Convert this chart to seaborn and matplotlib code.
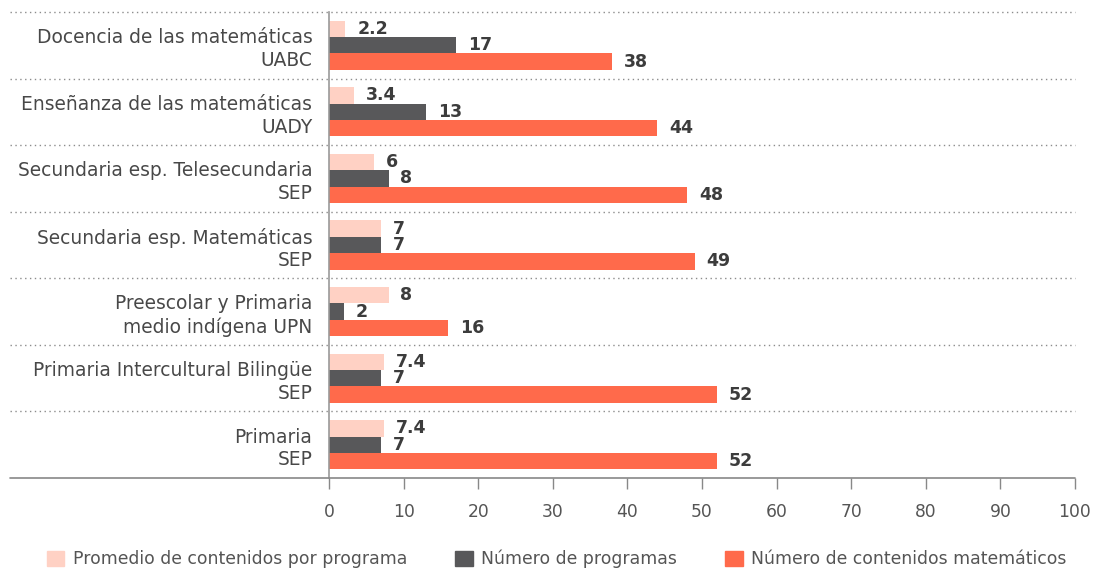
import matplotlib
matplotlib.use("Agg")
import matplotlib.pyplot as plt
import matplotlib.patches as mpatches
import seaborn as sns
import pandas as pd

programas = [
    "Docencia de las matemáticas\nUABC",
    "Enseñanza de las matemáticas\nUADY",
    "Secundaria esp. Telesecundaria\nSEP",
    "Secundaria esp. Matemáticas\nSEP",
    "Preescolar y Primaria\nmedio indígena UPN",
    "Primaria Intercultural Bilingüe\nSEP",
    "Primaria\nSEP",
]
promedio = [2.2, 3.4, 6, 7, 8, 7.4, 7.4]
num_programas = [17, 13, 8, 7, 2, 7, 7]
num_contenidos = [38, 44, 48, 49, 16, 52, 52]

series = [
    "Promedio de contenidos por programa",
    "Número de programas",
    "Número de contenidos matemáticos",
]
colores = ["#FFD1C4", "#58585A", "#FF6A4B"]
ticks = [0, 10, 20, 30, 40, 50, 60, 70, 80, 90, 100]

df = pd.DataFrame({
    "programa": programas * 3,
    "serie": [series[0]] * 7 + [series[1]] * 7 + [series[2]] * 7,
    "valor": promedio + num_programas + num_contenidos,
})

sns.set_theme(style="white")
plt.rcParams["font.family"] = ["DejaVu Sans"]

fig = plt.figure(figsize=(10.96, 5.71), dpi=100)
ax = fig.add_axes([329 / 1096, 1 - 478 / 571, 746 / 1096, 466 / 571])

sns.barplot(data=df, y="programa", x="valor", hue="serie", order=programas,
            hue_order=series, palette=colores, orient="h", width=0.74,
            saturation=1, ax=ax, legend=False, linewidth=0, edgecolor="none")

def fmt(v):
    return f"{v:g}"

for cont, vals in zip(ax.containers, [promedio, num_programas, num_contenidos]):
    ax.bar_label(cont, labels=[fmt(v) for v in vals], padding=8.5,
                 fontsize=12.5, color="#3C3C3C", fontweight="bold")

ax.set_xlim(0, 100)
ax.set_ylim(6.5, -0.5)
ax.set_xticks(ticks)
ax.set_xticklabels([str(t) for t in ticks], fontsize=12.3, color="#555555")
ax.tick_params(axis="x", which="major", direction="out", length=8, width=1,
               color="#888888", bottom=True, pad=10)
ax.tick_params(axis="y", length=0, pad=12, labelsize=13.4, labelcolor="#484848")
for lab in ax.get_yticklabels():
    lab.set_horizontalalignment("right")
    lab.set_multialignment("right")
    lab.set_linespacing(1.25)
ax.set_xlabel("")
ax.set_ylabel("")

for s in ["top", "right", "bottom"]:
    ax.spines[s].set_visible(False)
ax.spines["left"].set_color("#999999")
ax.spines["left"].set_linewidth(1.2)

# separators between groups, reaching into the label area
trans = ax.get_yaxis_transform()
x0 = -319 / 746
for y in [-0.5, 0.5, 1.5, 2.5, 3.5, 4.5, 5.5]:
    ax.plot([x0, 1], [y, y], transform=trans, clip_on=False,
            color="#8C8C8C", lw=1, ls=(0, (1, 2.5)), zorder=0)
ax.plot([x0, 1], [6.5, 6.5], transform=trans, clip_on=False,
        color="#888888", lw=1.2, zorder=3)

handles = [mpatches.Patch(color=c, label=s) for c, s in zip(colores, series)]
leg = fig.legend(handles=handles, loc="center left",
                 bbox_to_anchor=(47 / 1096, 1 - 559 / 571), ncol=3,
                 frameon=False, fontsize=12.4, handlelength=1.0, handleheight=1.0,
                 handletextpad=0.5, columnspacing=2.8, borderpad=0,
                 borderaxespad=0)
for t in leg.get_texts():
    t.set_color("#555555")

fig.savefig("out.png", dpi=100)
